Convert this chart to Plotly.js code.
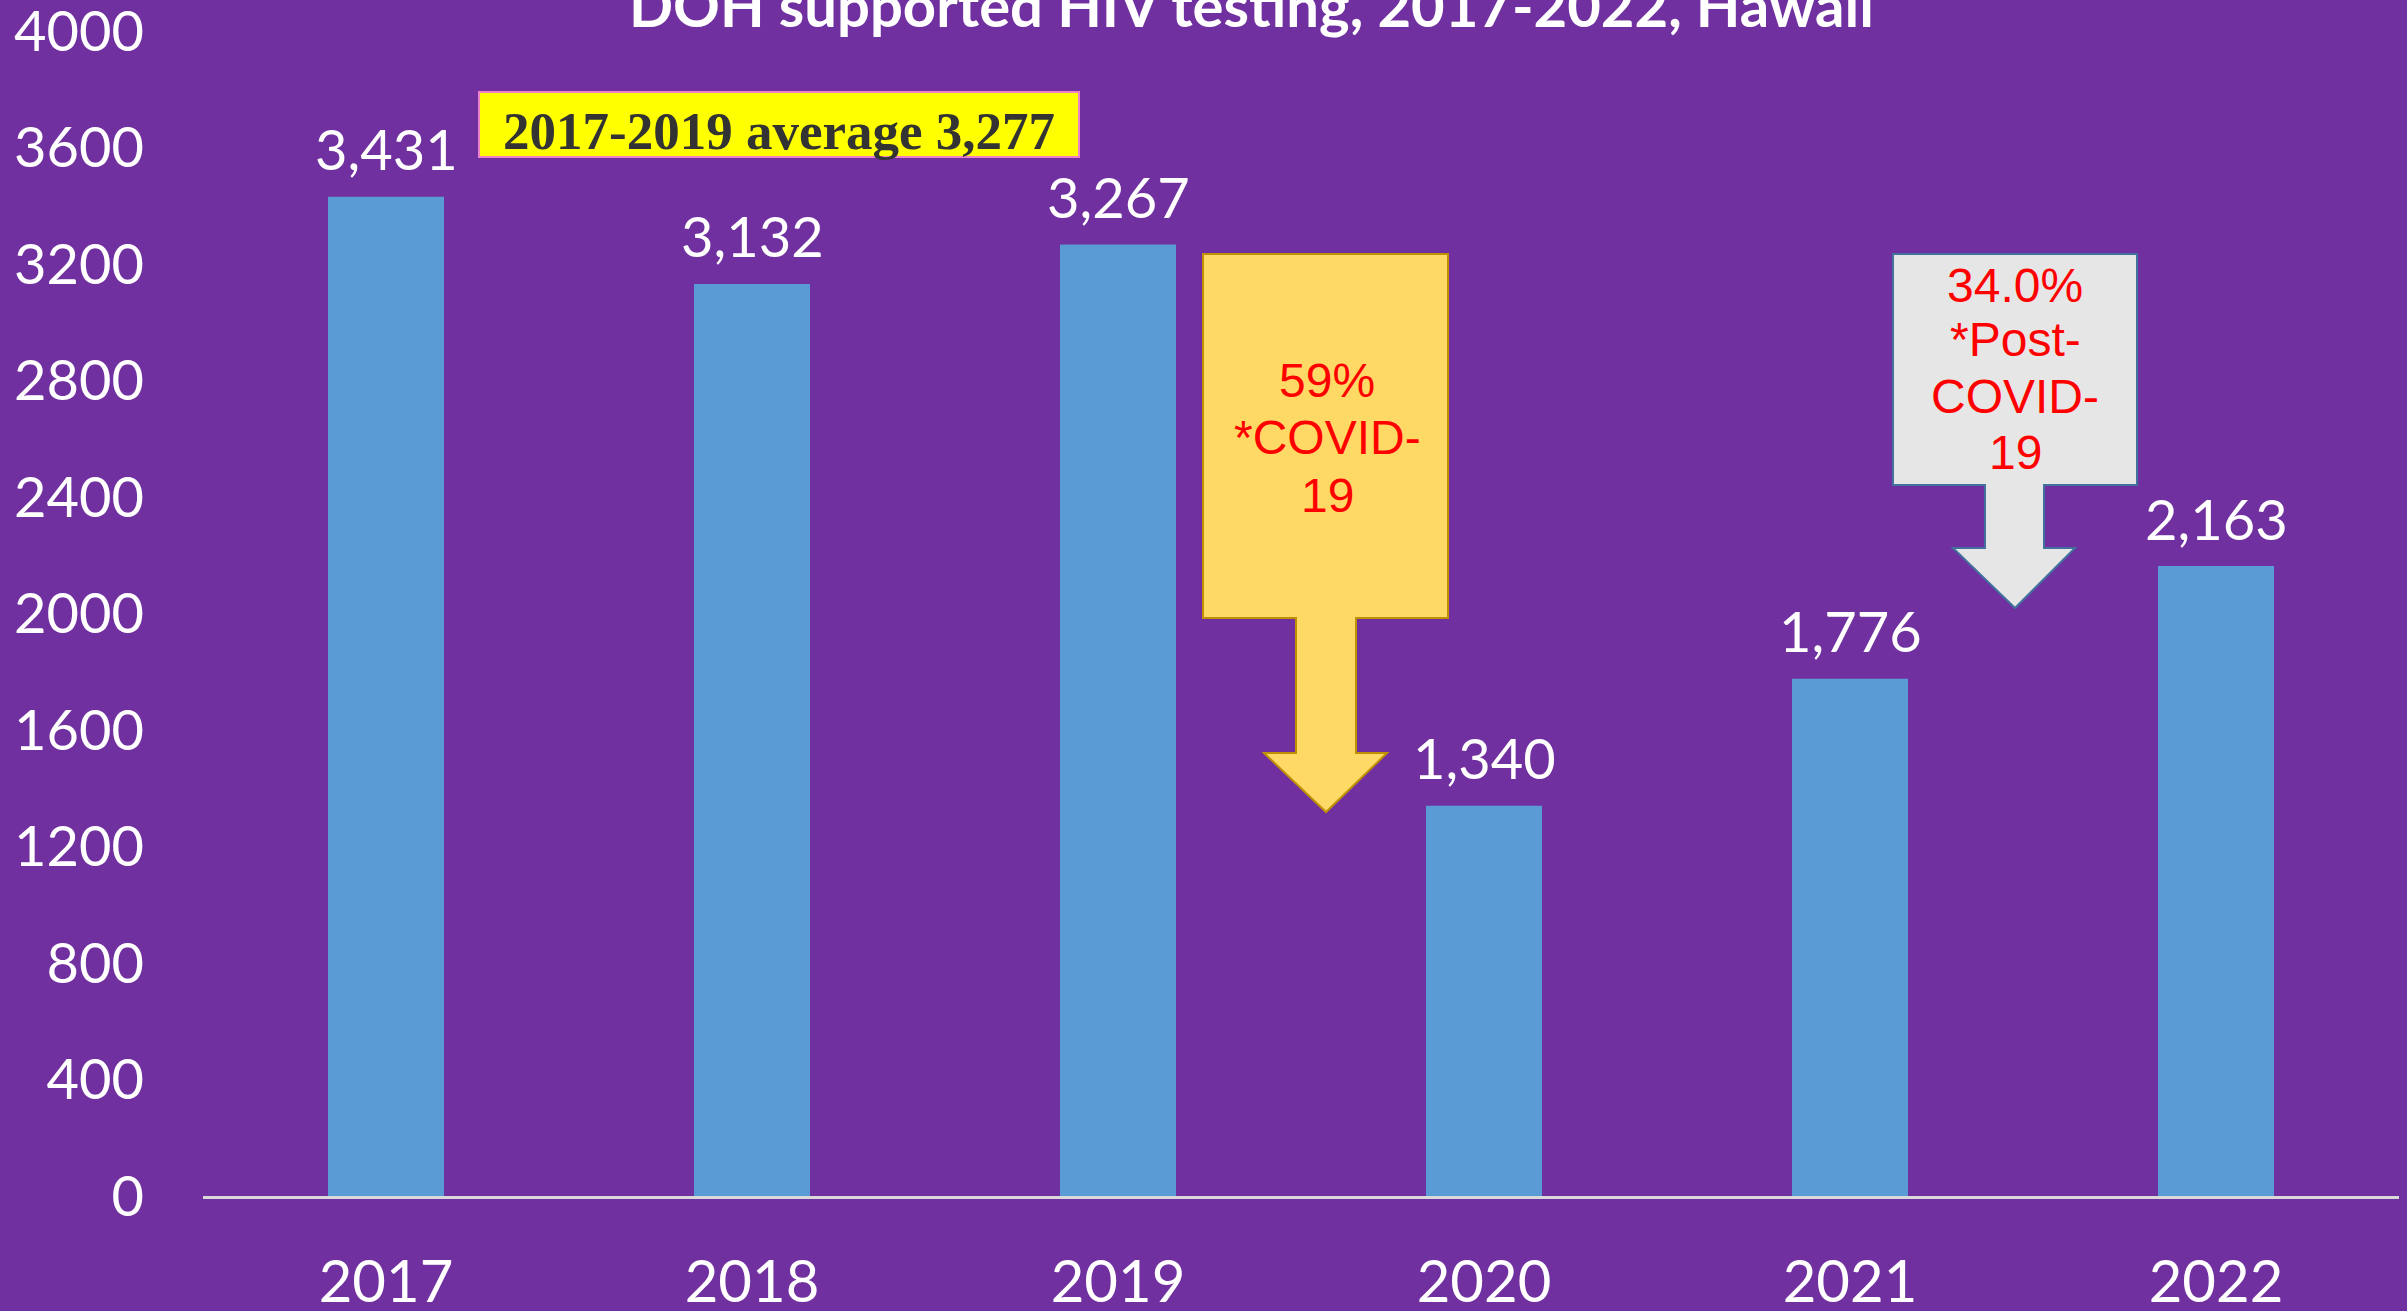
<!DOCTYPE html>
<html>
<head>
<meta charset="utf-8">
<script src="https://cdn.plot.ly/plotly-3.0.1.min.js"></script>
<style>
  html, body { margin: 0; padding: 0; background: #7030A0; }
  #chart { width: 2407px; height: 1311px; }
</style>
</head>
<body>
<div id="chart"></div>
<script>
// ---- Data ----
const years = ["2017", "2018", "2019", "2020", "2021", "2022"];
const tests = [3431, 3132, 3267, 1340, 1776, 2163];
const yTickValues = [0, 400, 800, 1200, 1600, 2000, 2400, 2800, 3200, 3600, 4000];
const chartTitle = "DOH supported HIV testing, 2017-2022, Hawaii";
const averageNote = "2017-2019 average 3,277";
const covidLines = ["59%", "*COVID-", "19"];
const postCovidLines = ["34.0%", "*Post-", "COVID-", "19"];

// ---- Layout geometry (pixels) ----
const W = 2407, H = 1311;
const L = 203, T = 31, PW = 2196, PH = 1165;
const px = x => (x - L) / PW;
const py = y => (T + PH - y) / PH;
const path = pts => pts.map((p, i) => (i ? "L" : "M") + px(p[0]).toFixed(5) + "," + py(p[1]).toFixed(5)).join(" ") + " Z";

const sansFont = "Lato, 'Open Sans', sans-serif";

const trace = {
  type: "bar",
  x: years.map((_, i) => i),
  y: tests,
  marker: { color: "#5B9BD5" },
  hoverinfo: "skip"
};

const annotations = [];
// data labels
years.forEach((yr, i) => {
  annotations.push({
    x: i, y: tests[i], xref: "x", yref: "y",
    text: tests[i].toLocaleString("en-US"),
    showarrow: false, yanchor: "middle", yshift: 48,
    font: { family: sansFont, size: 56, color: "#FFFFFF" }
  });
});
// title
annotations.push({
  x: px(1251), y: py(4), xref: "paper", yref: "paper",
  text: "<b>" + chartTitle + "</b>", showarrow: false,
  xanchor: "center", yanchor: "middle",
  font: { family: sansFont, size: 58, color: "#FFFFFF" }
});
// average note
annotations.push({
  x: px(779), y: py(131), xref: "paper", yref: "paper",
  text: "<b>" + averageNote + "</b>", showarrow: false,
  xanchor: "center", yanchor: "middle",
  font: { family: "'Liberation Serif', 'DejaVu Serif', serif", size: 53, color: "#333333" }
});
// covid callout text
const covidY = [381, 437, 495];
covidLines.forEach((t, i) => annotations.push({
  x: px(1327), y: py(covidY[i]), xref: "paper", yref: "paper",
  text: t, showarrow: false, xanchor: "center", yanchor: "middle",
  font: { family: "'Liberation Sans', Arial, sans-serif", size: 48, color: "#FF0000" }
}));
const postY = [285, 339, 397, 453];
postCovidLines.forEach((t, i) => annotations.push({
  x: px(2015), y: py(postY[i]), xref: "paper", yref: "paper",
  text: t, showarrow: false, xanchor: "center", yanchor: "middle",
  font: { family: "'Liberation Sans', Arial, sans-serif", size: 48, color: "#FF0000" }
}));

const shapes = [
  { type: "rect", xref: "paper", yref: "paper",
    x0: px(479), x1: px(1079), y0: py(157), y1: py(92),
    fillcolor: "#FFFF00", line: { color: "#EE82C8", width: 2 } },
  { type: "path", xref: "paper", yref: "paper",
    path: path([[1203,254],[1448,254],[1448,618],[1356,618],[1356,753],[1387,753],[1326,812],[1264,753],[1296,753],[1296,618],[1203,618]]),
    fillcolor: "#FFD966", line: { color: "#BF9000", width: 2 } },
  { type: "path", xref: "paper", yref: "paper",
    path: path([[1893,254],[2137,254],[2137,485],[2044,485],[2044,548],[2075,548],[2015,608],[1953,548],[1985,548],[1985,485],[1893,485]]),
    fillcolor: "#E7E6E6", line: { color: "#41719C", width: 2 } }
];

const layout = {
  width: W, height: H,
  paper_bgcolor: "#7030A0", plot_bgcolor: "#7030A0",
  margin: { l: L, r: W - L - PW, t: T, b: H - T - PH, pad: 0 },
  showlegend: false,
  bargap: 0.683,
  xaxis: {
    range: [-0.5, 5.5],
    tickvals: years.map((_, i) => i),
    ticktext: years,
    showgrid: false, zeroline: false,
    showline: true, linecolor: "#D9D9D9", linewidth: 3,
    ticks: "", ticklabelstandoff: 33, ticklabeloverflow: "allow",
    tickfont: { family: sansFont, size: 58, color: "#FFFFFF" }
  },
  yaxis: {
    range: [0, 4000.5],
    tickvals: yTickValues,
    ticktext: yTickValues.map(String),
    showgrid: false, zeroline: false, showline: false,
    ticks: "", ticklabelstandoff: 58, ticklabeloverflow: "allow",
    tickfont: { family: sansFont, size: 56, color: "#FFFFFF" }
  },
  shapes: shapes,
  annotations: annotations
};

Plotly.newPlot("chart", [trace], layout, { displayModeBar: false, staticPlot: true });
</script>
</body>
</html>
